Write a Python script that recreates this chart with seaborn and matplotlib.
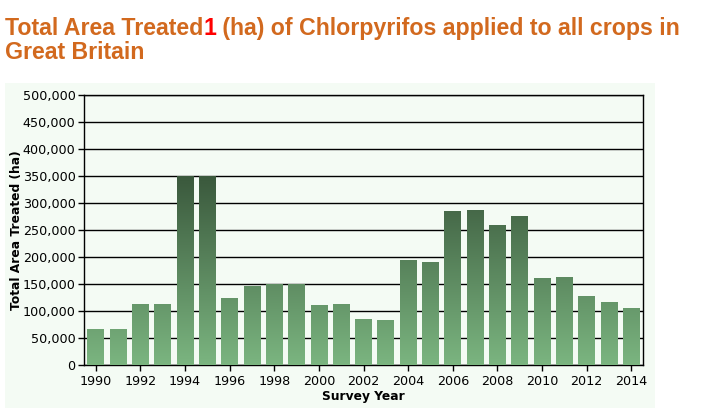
import numpy as np
import pandas as pd
import matplotlib
matplotlib.use("Agg")
import matplotlib.pyplot as plt
import seaborn as sns
from matplotlib.colors import LinearSegmentedColormap
from matplotlib.patches import Rectangle
from matplotlib.ticker import FuncFormatter, MultipleLocator

years = [str(y) for y in range(1990, 2015)]
area_treated = [67000, 67000, 113000, 113000, 350000, 350000, 124000, 146000,
                150000, 150000, 111000, 113000, 85000, 83000, 194000, 191000,
                285000, 287000, 259000, 276000, 161000, 163000, 128000, 117000, 106000]
xtick_labels = [y if int(y) % 2 == 0 else "" for y in years]

title_part1 = "Total Area Treated"
title_mark = "1"
title_part2 = " (ha) of Chlorpyrifos applied to all crops in"
title_line2 = "Great Britain"
ylabel = "Total Area Treated (ha)"
xlabel = "Survey Year"

df = pd.DataFrame({"year": years, "area": area_treated})

W, H = 705, 415
fig = plt.figure(figsize=(W / 100, H / 100), dpi=100)
fig.patch.set_facecolor("white")

panel_bg = "#f4fbf4"
fig.patches.append(Rectangle((5 / W, (H - 408) / H), 650 / W, 325 / H,
                             transform=fig.transFigure, facecolor=panel_bg,
                             edgecolor="none", zorder=-10))

ax = fig.add_axes([84 / W, (H - 365) / H, (643 - 84) / W, (365 - 95) / H])
ax.set_facecolor(panel_bg)
ax.set_zorder(1)

sns.barplot(data=df, x="year", y="area", color="#6a9e6e", width=0.75,
            ax=ax, zorder=3)

xlo, xhi = -0.525, len(years) - 0.475

# gradient fill clipped to each bar
cmap = LinearSegmentedColormap.from_list("g", ["#7bb580", "#3a583c"])
grad = np.linspace(0, 1, 256).reshape(-1, 1)
for p in list(ax.patches):
    img = ax.imshow(grad, cmap=cmap, aspect="auto", origin="lower",
                    extent=(xlo, xhi, 0, 350000),
                    zorder=3, interpolation="bicubic")
    img.set_clip_path(p)
    p.set_facecolor("none")
ax.set_xlim(xlo, xhi)
ax.set_ylim(0, 500000)

ax.yaxis.set_major_locator(MultipleLocator(50000))
ax.yaxis.set_major_formatter(FuncFormatter(lambda v, _: f"{int(v):,}"))
ax.grid(axis="y", color="black", linewidth=1.0, zorder=1)
ax.set_axisbelow(True)
ax.set_xticks([i for i, l in enumerate(xtick_labels) if l])
ax.set_xticklabels([l for l in xtick_labels if l])
ax.tick_params(axis="both", direction="out", length=4, width=1.0,
               colors="black", labelsize=9.2, pad=2)
ax.tick_params(axis="x", pad=3)
for s in ax.spines.values():
    s.set_color("black")
    s.set_linewidth(1.0)

ax.set_xlabel(xlabel, fontsize=8.8, fontweight="bold", labelpad=1.5)
ax.set_ylabel(ylabel, fontsize=8.8, fontweight="bold", labelpad=-0.5)

# title in pieces
tcol = "#d2691e"
tfont = dict(family="Liberation Sans", fontsize=16.7, fontweight="bold")
fig.canvas.draw()
r = fig.canvas.get_renderer()
x0 = 5 / W
yb1 = (H - 35) / H
t1 = fig.text(x0, yb1, title_part1, color=tcol, va="baseline", ha="left", **tfont)
bb = t1.get_window_extent(r)
t2 = fig.text(bb.x1 / W, yb1, title_mark, color="#ff0000", va="baseline", ha="left", **tfont)
bb2 = t2.get_window_extent(r)
fig.text(bb2.x1 / W, yb1, title_part2, color=tcol, va="baseline", ha="left", **tfont)
fig.text(x0, (H - 59) / H, title_line2, color=tcol, va="baseline", ha="left", **tfont)

fig.savefig("out.png", dpi=100, facecolor="white")
